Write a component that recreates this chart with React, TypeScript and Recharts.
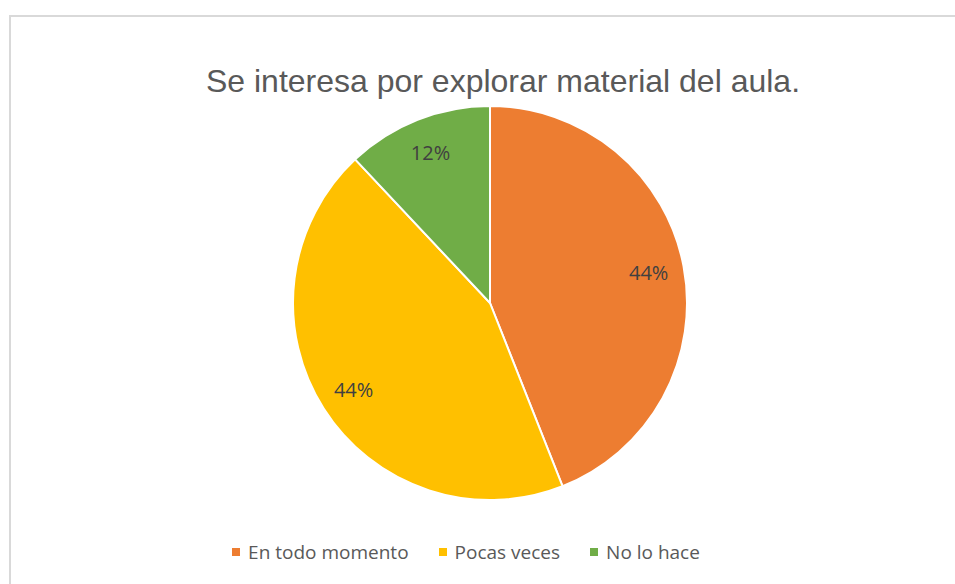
import { PieChart, Pie, Cell } from 'recharts'

const categories = ['En todo momento', 'Pocas veces', 'No lo hace']
const values = [11, 11, 3]
const COLORS = ['#ed7d31', '#ffc000', '#70ad47']

const data = categories.map((name, i) => ({ name, value: values[i] }))
const total = values.reduce((a, b) => a + b, 0)

const RADIAN = Math.PI / 180

const renderLabel = (props: any) => {
  const { cx, cy, midAngle, outerRadius, value } = props
  const r = outerRadius * 0.82
  const x = cx + r * Math.cos(-midAngle * RADIAN)
  const y = cy + r * Math.sin(-midAngle * RADIAN)
  return (
    <text x={x} y={y} fill="#404040" fontSize={20} fontFamily="Open Sans" textAnchor="middle" dominantBaseline="central">
      {Math.round((value / total) * 100)}%
    </text>
  )
}

export default function App() {
  return (
    <div style={{ position: 'absolute', left: 0, top: 0, width: 955, height: 584, background: '#fff', overflow: 'hidden' }}>
      <div style={{ position: 'absolute', left: 9, top: 15, width: 1000, height: 700, border: '2px solid #d9d9d9', boxSizing: 'border-box' }}></div>
      <div style={{ position: 'absolute', left: 0, top: 63, width: 1006, textAlign: 'center', fontFamily: 'Liberation Sans', fontSize: 32, color: '#595959' }}>
        Se interesa por explorar material del aula.
      </div>
      <div style={{ position: 'absolute', left: 0, top: 0 }}>
        <PieChart width={955} height={584} margin={{ top: 0, right: 0, bottom: 0, left: 0 }}>
          <Pie
            data={data}
            dataKey="value"
            nameKey="name"
            cx={490}
            cy={303}
            outerRadius={197}
            startAngle={90}
            endAngle={-270}
            stroke="#fff"
            strokeWidth={2}
            label={renderLabel}
            labelLine={false}
            isAnimationActive={false}
          >
            {data.map((entry, index) => (
              <Cell key={`cell-${index}`} fill={COLORS[index]} />
            ))}
          </Pie>
        </PieChart>
      </div>
      {/* legend */}
      <div style={{ position: 'absolute', left: 0, top: 539, width: 932, display: 'flex', justifyContent: 'center', gap: 30, fontFamily: 'Open Sans', fontSize: 19, color: '#595959' }}>
        {categories.map((name, i) => (
          <div key={`lg-${i}`} style={{ display: 'flex', alignItems: 'center' }}>
            <span style={{ width: 8, height: 8, background: COLORS[i], display: 'inline-block', marginRight: 8 }}></span>
            <span>{name}</span>
          </div>
        ))}
      </div>
    </div>
  )
}
